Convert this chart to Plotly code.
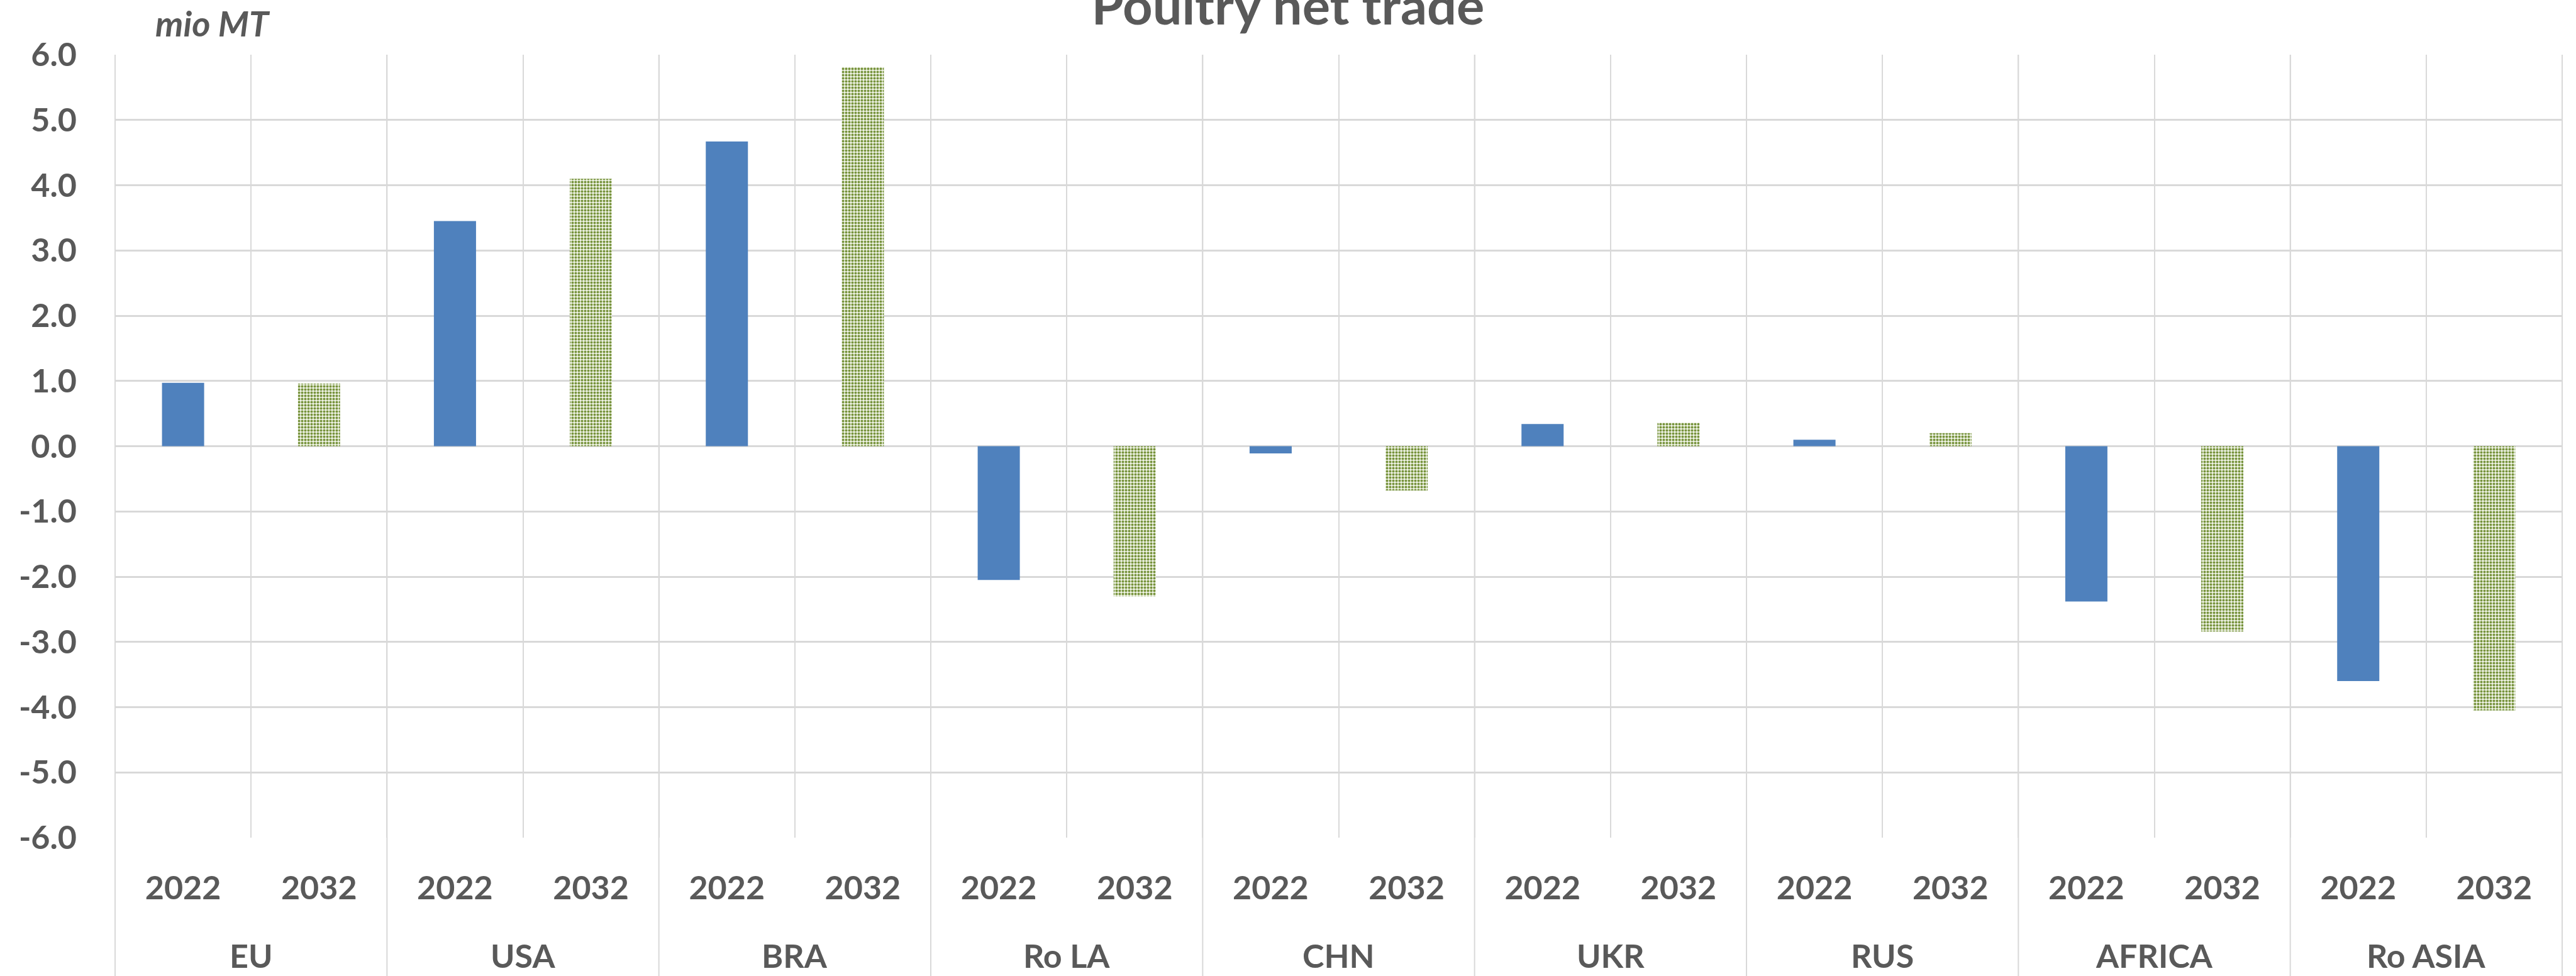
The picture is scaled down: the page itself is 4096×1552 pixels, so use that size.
import plotly.graph_objects as go

# ---- data ----
countries = ["EU", "USA", "BRA", "Ro LA", "CHN", "UKR", "RUS", "AFRICA", "Ro ASIA"]
years = ["2022", "2032"]
net_2022 = [0.97, 3.45, 4.67, -2.05, -0.11, 0.34, 0.10, -2.38, -3.60]
net_2032 = [0.96, 4.10, 5.81, -2.30, -0.68, 0.36, 0.20, -2.84, -4.05]
y_ticks = [-6, -5, -4, -3, -2, -1, 0, 1, 2, 3, 4, 5, 6]
y_tick_text = ["%.1f" % v for v in y_ticks]
unit_label = "mio MT"
title_text = "Poultry net trade"

# ---- layout geometry ----
W, H = 4096, 1552
ML, MR, MT, MB = 183, 22, 87, 220
plot_w = W - ML - MR
plot_h = H - MT - MB

TXT = "#595959"
GRID = "#d9d9d9"
FONT = "Lato"
FS = 52

n = len(countries)
x22 = [2 * i for i in range(n)]
x32 = [2 * i + 1 for i in range(n)]
x_all = [v for pair in zip(x22, x32) for v in pair]
tick_text = [years[i % 2] for i in range(2 * n)]

fig = go.Figure()
fig.add_trace(go.Bar(
    x=x22, y=net_2022, name=years[0], width=0.31,
    marker=dict(color="#4f81bd", line=dict(width=0)),
))
fig.add_trace(go.Bar(
    x=x32, y=net_2032, name=years[1], width=0.31,
    marker=dict(color="#eef2e4", line=dict(width=0),
                pattern=dict(shape=".", fgcolor="#77933c", fgopacity=1,
                             fillmode="overlay", size=5, solidity=0.5)),
))

shapes = []
for k in range(n + 1):
    shapes.append(dict(type="line", xref="paper", yref="paper",
                       x0=k / n, x1=k / n, y0=1, y1=-MB / plot_h,
                       line=dict(color=GRID, width=2), layer="below"))

annotations = []
for i, c in enumerate(countries):
    annotations.append(dict(text=c, x=2 * i + 0.5, xref="x",
                            y=-187 / plot_h, yref="paper",
                            xanchor="center", yanchor="middle", showarrow=False,
                            font=dict(family=FONT, size=FS, color=TXT, weight="bold")))
annotations.append(dict(text=unit_label, x=(245 - ML) / plot_w, xref="paper",
                        y=1 + (MT - 36) / plot_h, yref="paper",
                        xanchor="left", yanchor="middle", showarrow=False,
                        font=dict(family=FONT, size=56, color=TXT, weight="bold",
                                  style="italic")))

fig.update_layout(
    width=W, height=H,
    margin=dict(l=ML, r=MR, t=MT, b=MB, pad=0),
    paper_bgcolor="white", plot_bgcolor="white",
    barmode="overlay", showlegend=False,
    title=dict(text=title_text, x=0.5, xref="container", xanchor="center",
               y=1 - 10 / H, yref="container", yanchor="middle",
               font=dict(family=FONT, size=83, color=TXT, weight="bold")),
    shapes=shapes, annotations=annotations,
    xaxis=dict(range=[-0.5, 2 * n - 0.5], tickmode="array", tickvals=x_all,
               ticktext=tick_text, ticks="", showgrid=False, zeroline=False,
               showline=False, ticklabelstandoff=45,
               tickfont=dict(family=FONT, size=FS, color=TXT, weight="bold"),
               minor=dict(tickmode="array",
                          tickvals=[v - 0.5 for v in range(2 * n + 1)],
                          showgrid=True, gridcolor=GRID, gridwidth=1.5, ticks="")),
    yaxis=dict(range=[-6, 6], tickmode="array", tickvals=y_ticks,
               ticktext=y_tick_text, showgrid=True, gridcolor=GRID, gridwidth=2.5,
               zeroline=False, showline=False, ticks="", ticklabelstandoff=60,
               tickfont=dict(family=FONT, size=FS, color=TXT, weight="bold")),
)

fig.write_html("out.html", config={"displayModeBar": False},
               post_script="document.body.style.margin='0';")
